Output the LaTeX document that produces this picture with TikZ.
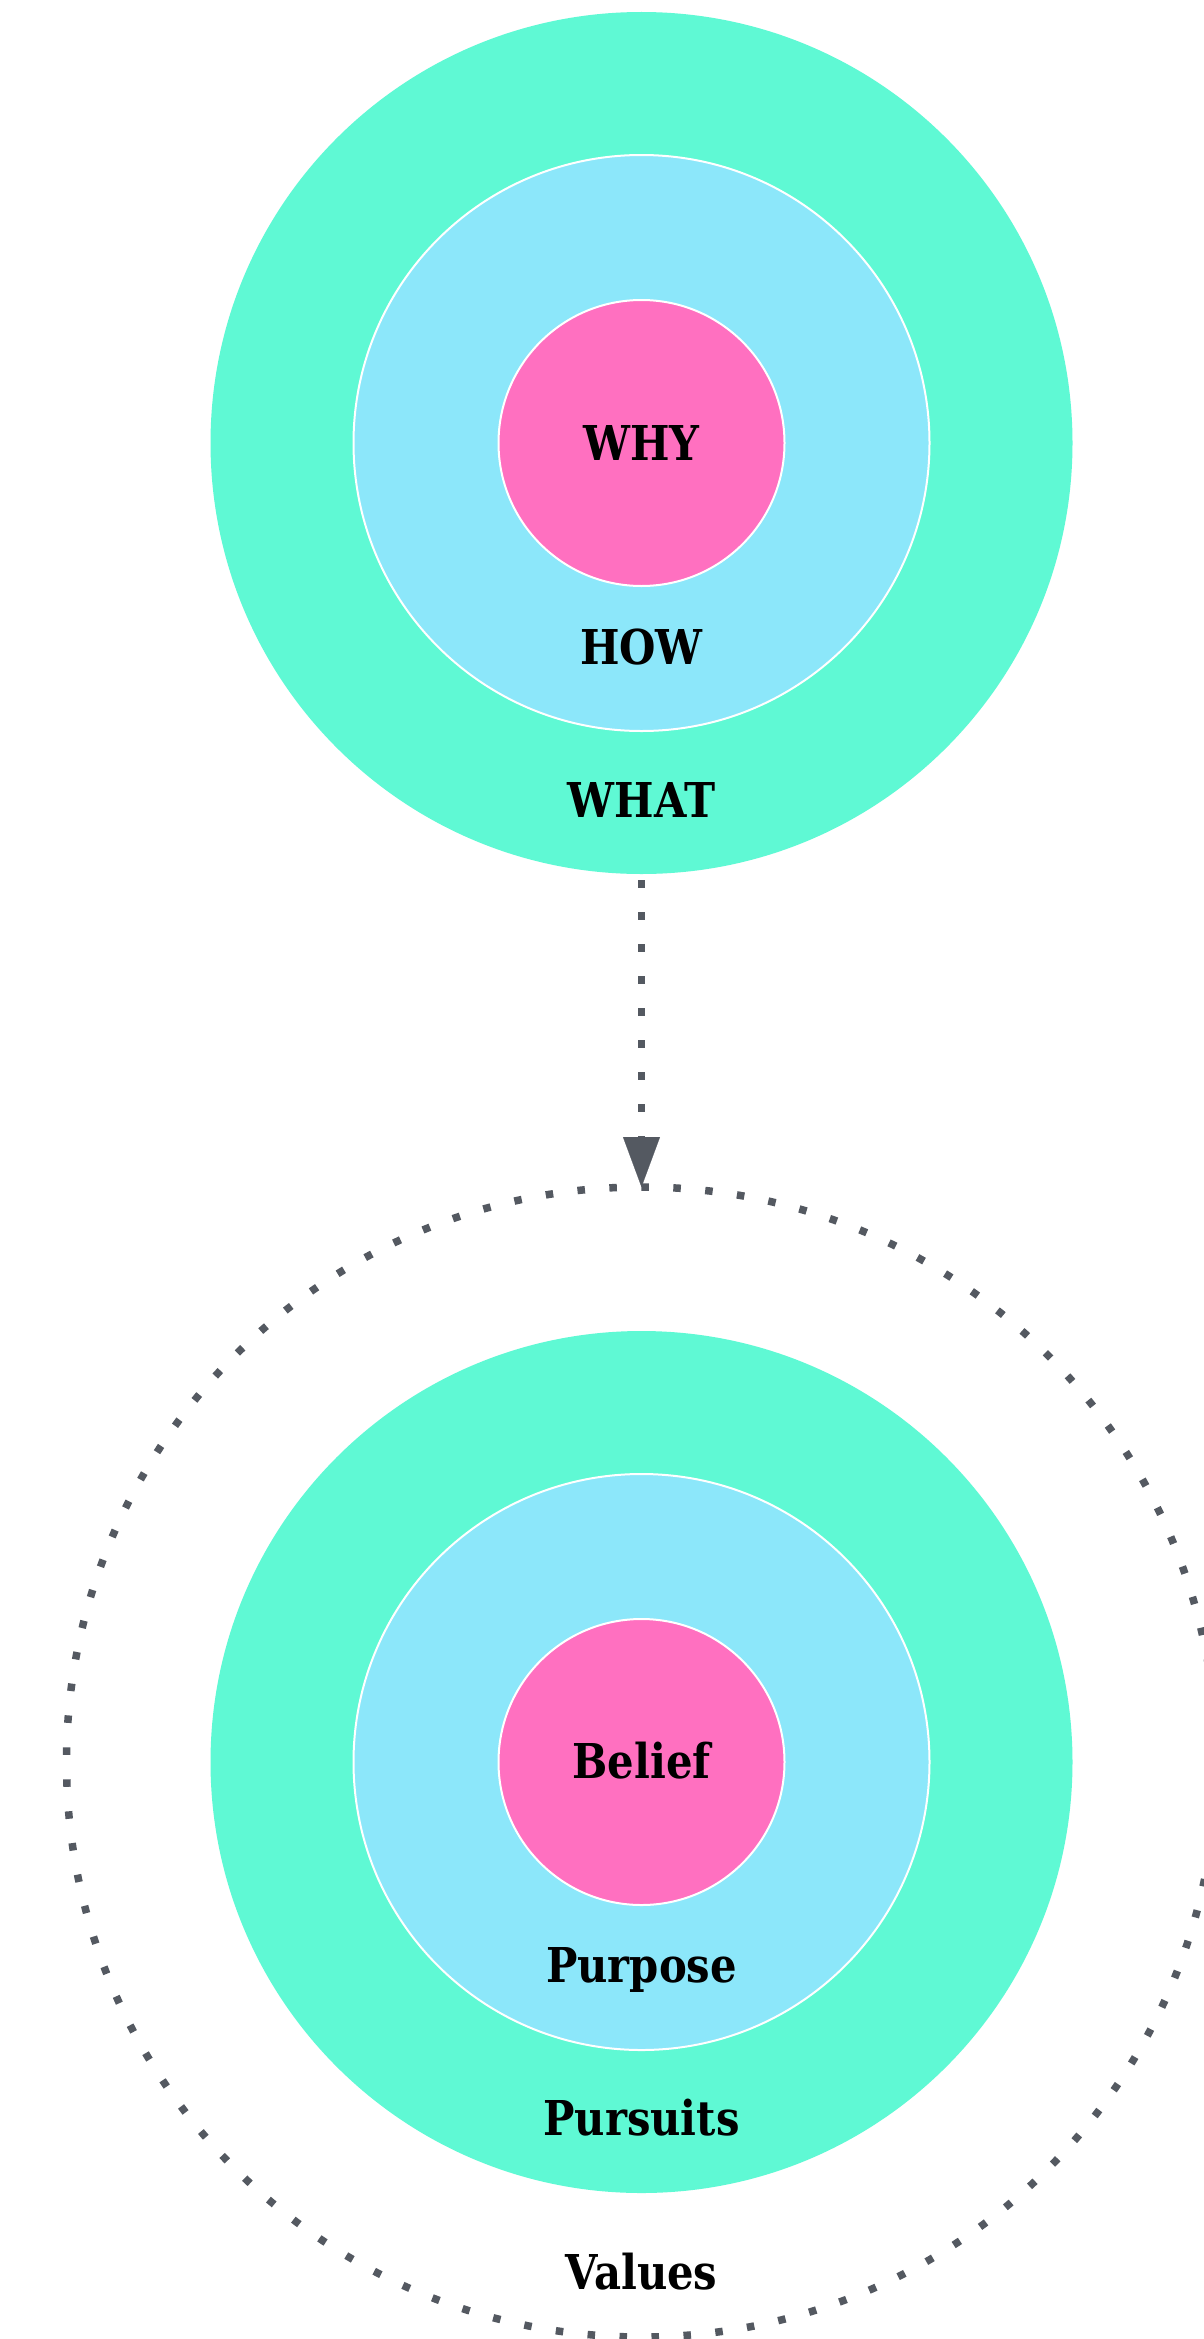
\documentclass[tikz,border=0pt]{standalone}
\usepackage{fontspec}
\setmainfont{DejaVu Serif}[FakeStretch=0.87]
\usetikzlibrary{arrows.meta}

\definecolor{ringgreen}{RGB}{95,249,212}
\definecolor{ringblue}{RGB}{140,231,250}
\definecolor{ringpink}{RGB}{255,112,192}
\definecolor{dotgray}{RGB}{84,89,97}

\tikzset{
  ring/.style={circle, inner sep=0pt, outer sep=0pt},
  outerring/.style={ring, fill=ringgreen},
  midring/.style={ring, fill=ringblue, draw=white, line width=1pt},
  corering/.style={ring, fill=ringpink, draw=white, line width=1pt},
  dotline/.style={draw=dotgray, line width=3.75pt, dash pattern=on 3.75pt off 12.25pt},
  ringlabel/.style={anchor=base, inner sep=0pt, text=black,
    font=\fontsize{24pt}{29pt}\selectfont\bfseries},
}

\begin{document}
\begin{tikzpicture}[x=0.5pt, y=-0.5pt]
  \useasboundingbox (0,0) rectangle (1204,2339);
  \clip (0,0) rectangle (1204,2339);
  \fill[white] (0,0) rectangle (1204,2339);

  % upper target: why / how / what
  \node[outerring, minimum size=431pt] (what) at (641.5,443) {};
  \node[midring,   minimum size=288pt] (how)  at (641.5,443) {};
  \node[corering,  minimum size=143pt] (why)  at (641.5,443) {};
  \node[ringlabel] (whyT)  at (641.5,460.5) {WHY};
  \node[ringlabel] (howT)  at (641.5,664.5) {HOW};
  \node[ringlabel] (whatT) at (641.5,817.5) {WHAT};

  % lower target enclosed by the dotted values ring
  \node[ring, dotline, minimum size=575pt] (values) at (641.5,1762) {};
  \node[outerring, minimum size=431pt] (pursuits) at (641.5,1762) {};
  \node[midring,   minimum size=288pt] (purpose)  at (641.5,1762) {};
  \node[corering,  minimum size=143pt] (belief)   at (641.5,1762) {};
  \node[ringlabel] (beliefT)   at (641.5,1778.5) {Belief};
  \node[ringlabel] (purposeT)  at (641.5,1982) {Purpose};
  \node[ringlabel] (pursuitsT) at (641.5,2135) {Pursuits};
  \node[ringlabel] (valuesT)   at (641.5,2289) {Values};

  % dotted connector between the two targets
  \draw[dotline, dash phase=-3pt,
        -{Triangle[length=25pt, width=18.5pt, line width=0.1pt]}]
    (what.south) -- (values.north);
\end{tikzpicture}
\end{document}
